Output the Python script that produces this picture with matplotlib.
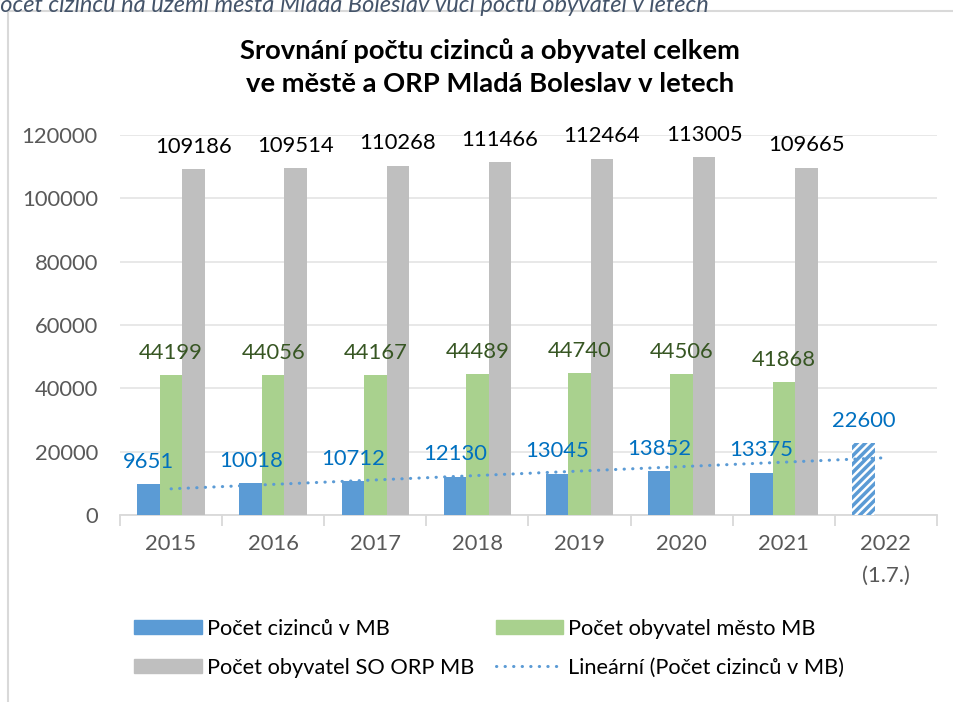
import numpy as np
import matplotlib
matplotlib.use("Agg")
import matplotlib.pyplot as plt
from matplotlib.patches import Patch
from matplotlib.lines import Line2D

plt.rcParams['font.family'] = ['Lato', 'DejaVu Sans']
plt.rcParams['hatch.linewidth'] = 2.5

# Data
years = ['2015', '2016', '2017', '2018', '2019', '2020', '2021', '2022\n(1.7.)']
cizinci = [9651, 10018, 10712, 12130, 13045, 13852, 13375, 22600]
mesto = [44199, 44056, 44167, 44489, 44740, 44506, 41868]
orp = [109186, 109514, 110268, 111466, 112464, 113005, 109665]

blue = '#5B9BD5'
green = '#A9D18E'
gray = '#BFBFBF'

fig = plt.figure(figsize=(9.54, 7.02), dpi=100)
ax = fig.add_axes([120/954, 1 - 515/702, 817/954, 380/702])

x = np.arange(len(years))
w = 0.22

# bars (last foreigners value = partial year, hatched)
ax.bar(x[:-1] - w, cizinci[:-1], w, color=blue, zorder=3)
ax.bar(x[-1] - w, cizinci[-1], w, color='white', edgecolor=blue,
       hatch='////', linewidth=0, zorder=3)
ax.bar(x[:len(mesto)], mesto, w, color=green, zorder=3)
ax.bar(x[:len(orp)] + w, orp, w, color=gray, zorder=3)

# linear trend of foreigners
k, q = np.polyfit(x + 1, cizinci, 1)
ax.plot(x, k * (x + 1) + q, color=blue, lw=2.2, linestyle=(0, (0.1, 2.7)),
        dash_capstyle='round', zorder=4)

# data labels
fs = 15.8
for i, v in enumerate(cizinci):
    ax.annotate(str(v), (x[i] - w, v), xytext=(0, 9), textcoords='offset points',
                ha='center', va='bottom', fontsize=fs, color='#0070C0', zorder=5)
for i, v in enumerate(mesto):
    ax.annotate(str(v), (x[i], v), xytext=(0, 9), textcoords='offset points',
                ha='center', va='bottom', fontsize=fs, color='#375623', zorder=5)
for i, v in enumerate(orp):
    ax.annotate(str(v), (x[i] + w, v), xytext=(0, 9), textcoords='offset points',
                ha='center', va='bottom', fontsize=fs, color='black', zorder=5)

ax.set_xlim(-0.5, len(years) - 0.5)
ax.set_ylim(0, 120000)
ax.set_yticks(range(0, 120001, 20000))
ax.yaxis.grid(True, color='#E6E6E6', lw=1.3, zorder=0)
ax.tick_params(axis='y', length=0, pad=16, labelsize=fs, labelcolor='#595959')

ax.set_xticks(x)
ax.set_xticklabels(years, linespacing=1.7)
ax.set_xticks(np.arange(-0.5, len(years)), minor=True)
ax.tick_params(axis='x', which='major', length=0, pad=14, labelsize=fs,
               labelcolor='#595959')
ax.tick_params(axis='x', which='minor', length=8, width=1.3, color='#D9D9D9')

for s in ['top', 'right', 'left']:
    ax.spines[s].set_visible(False)
ax.spines['bottom'].set_color('#D9D9D9')
ax.spines['bottom'].set_linewidth(1.3)

fig.text(490/954, 1 - 67/702,
         'Srovnání počtu cizinců a obyvatel celkem\nve městě a ORP Mladá Boleslav v letech',
         ha='center', va='center', fontsize=19.7, fontweight='bold', linespacing=1.48)

# cut-off caption above the chart
fig.text(-13/954, 1 - 12/702,
         'Počet cizinců na území města Mladá Boleslav vůči počtu obyvatel v letech',
         ha='left', va='baseline', fontsize=17, style='italic', color='#44546A')

# chart border (partly visible)
fig.add_artist(Line2D([8/954, 8/954], [0, 1 - 11/702], transform=fig.transFigure,
                      color='#D9D9D9', lw=1.5))
fig.add_artist(Line2D([8/954, 1], [1 - 11/702, 1 - 11/702], transform=fig.transFigure,
                      color='#D9D9D9', lw=1.5))

handles = [Patch(color=blue), Patch(color=green), Patch(color=gray),
           Line2D([], [], color=blue, lw=2.2, linestyle=(0, (0.1, 2.7)),
                  dash_capstyle='round')]
labels = ['Počet cizinců v MB', 'Počet obyvatel město MB',
          'Počet obyvatel SO ORP MB', 'Lineární (Počet cizinců v MB)']
order = [0, 2, 1, 3]
fig.legend([handles[i] for i in order], [labels[i] for i in order], ncol=2,
           loc='upper left', bbox_to_anchor=(134/954, 1 - 619/702), frameon=False,
           fontsize=15.7, handlelength=3.1, handleheight=0.6, handletextpad=0.23,
           columnspacing=1.0, labelspacing=0.86, borderpad=0, borderaxespad=0)

fig.savefig('out.png', dpi=100)
